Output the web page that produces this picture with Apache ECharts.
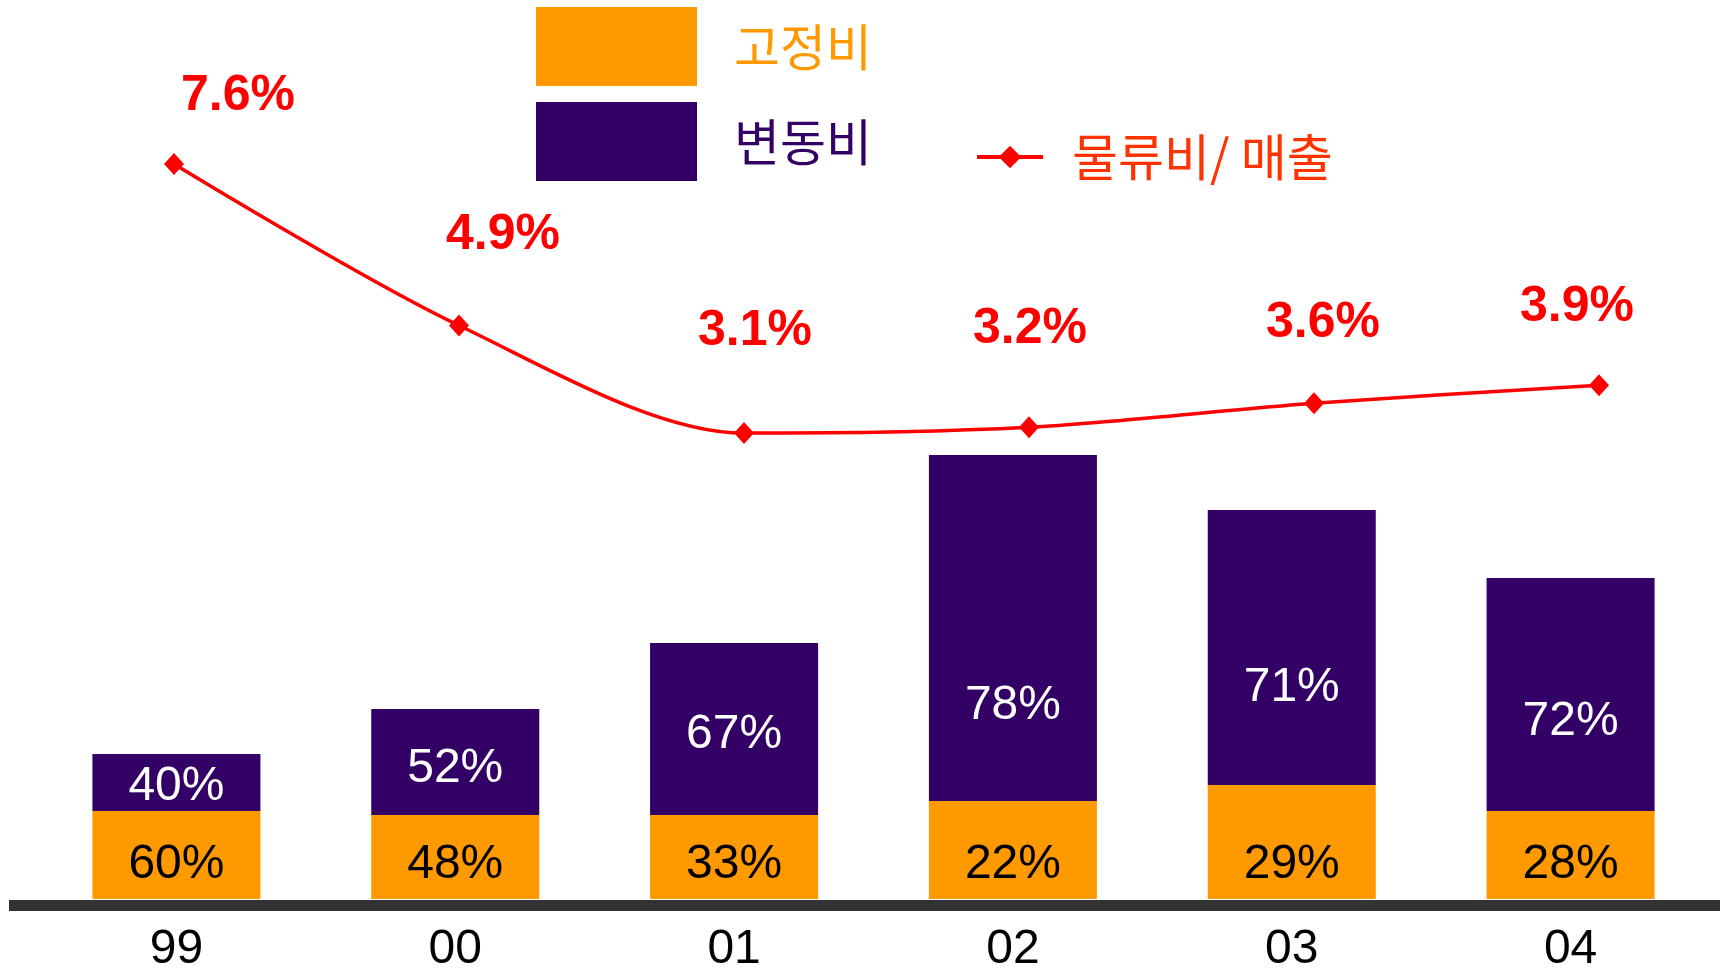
<!DOCTYPE html>
<html>
<head>
<meta charset="utf-8">
<script src="https://cdn.jsdelivr.net/npm/echarts@6/dist/echarts.min.js"></script>
<style>
html,body{margin:0;padding:0;background:#fff;}
#chart{width:1726px;height:969px;}
</style>
</head>
<body>
<div id="chart"></div>
<script>
// ---- data ----
const categories = ['99', '00', '01', '02', '03', '04'];
const fixedCost = [88, 84, 84, 98, 114, 88];          // 고정비 (relative amount, bar segment)
const variableCost = [57, 106, 172, 346, 275, 233];   // 변동비 (relative amount, bar segment)
const fixedPct = [60, 48, 33, 22, 29, 28];            // 고정비 share labels (%)
const variablePct = [40, 52, 67, 78, 71, 72];         // 변동비 share labels (%)
const costToSales = [7.6, 4.9, 3.1, 3.2, 3.6, 3.9];   // 물류비/ 매출 (%)

// ---- layout helpers (not data) ----
const lineLabelOffsets = [[64, -68], [44, -90], [11, -102], [1, -98], [9, -80], [-22, -78]];
const varLabelDy = [4, 7, 6, 78, 40, 27];

const NUM_FONT = '"Liberation Sans", Arial, sans-serif';
const KR_FONT = '"Noto Sans CJK KR", "Noto Sans", sans-serif';

const chart = echarts.init(document.getElementById('chart'), null, {renderer: 'canvas'});
chart.setOption({
  backgroundColor: '#ffffff',
  animation: false,
  grid: [
    {left: 37, right: 16, bottom: 70, height: 500, outerBoundsMode: 'none', containLabel: false},
    {left: 9, right: 6, bottom: 63.5, height: 10, outerBoundsMode: 'none', containLabel: false},
    {left: 174, right: 127, top: 20.5, bottom: 350.5, outerBoundsMode: 'none', containLabel: false}
  ],
  legend: [
    {
      data: [
        {name: '고정비', textStyle: {color: '#FF9900'}},
        {name: '변동비', textStyle: {color: '#330066'}}
      ],
      orient: 'vertical', left: 536, top: 7, padding: 0,
      icon: 'rect', itemWidth: 161, itemHeight: 79, itemGap: 16,
      textStyle: {fontFamily: KR_FONT, fontSize: 50, padding: [0, 0, 0, 32]}
    },
    {
      data: [{name: '물류비/ 매출', textStyle: {color: '#FF3300'}}],
      left: 975, top: 132, padding: 0,
      itemWidth: 66, itemHeight: 28,
      lineStyle: {width: 4},
      textStyle: {fontFamily: KR_FONT, fontSize: 50, padding: [0, 0, 0, 24]}
    }
  ],
  xAxis: [
    {
      gridIndex: 0, type: 'category', data: categories,
      axisLine: {show: false}, axisTick: {show: false},
      axisLabel: {color: '#000', fontFamily: NUM_FONT, fontSize: 48, margin: 27}
    },
    {
      gridIndex: 1, type: 'category', data: categories,
      axisLine: {show: true, lineStyle: {color: '#333333', width: 11, cap: 'butt'}},
      axisTick: {show: false}, axisLabel: {show: false}
    },
    {
      gridIndex: 2, type: 'category', data: categories, boundaryGap: false,
      show: false
    }
  ],
  yAxis: [
    {gridIndex: 0, type: 'value', min: 0, max: 500, show: false},
    {gridIndex: 1, type: 'value', show: false},
    {gridIndex: 2, type: 'value', min: 0, max: 10, show: false}
  ],
  series: [
    {
      name: '고정비', type: 'bar', stack: 'cost', xAxisIndex: 0, yAxisIndex: 0,
      barWidth: 168,
      itemStyle: {color: '#FF9900'},
      data: fixedCost,
      label: {
        show: true, position: 'insideBottom', distance: 10,
        color: '#000', fontFamily: NUM_FONT, fontSize: 48,
        textBorderWidth: 0,
        formatter: p => fixedPct[p.dataIndex] + '%'
      }
    },
    {
      name: '변동비', type: 'bar', stack: 'cost', xAxisIndex: 0, yAxisIndex: 0,
      barWidth: 168,
      itemStyle: {color: '#330066'},
      data: variableCost.map((v, i) => ({
        value: v,
        label: {offset: [0, varLabelDy[i]]}
      })),
      label: {
        show: true, position: 'inside',
        color: '#fff', fontFamily: NUM_FONT, fontSize: 48,
        textBorderWidth: 0,
        formatter: p => variablePct[p.dataIndex] + '%'
      }
    },
    {
      name: '물류비/ 매출', type: 'line', xAxisIndex: 2, yAxisIndex: 2,
      smooth: 0.3,
      symbol: 'diamond', symbolSize: [20, 22],
      lineStyle: {color: '#FF0000', width: 3.5},
      itemStyle: {color: '#FF0000'},
      data: costToSales.map((v, i) => ({
        value: v,
        label: {offset: lineLabelOffsets[i]}
      })),
      label: {
        show: true, position: 'inside',
        color: '#FF0000', fontFamily: NUM_FONT, fontSize: 50, fontWeight: 'bold',
        textBorderWidth: 0,
        formatter: p => costToSales[p.dataIndex].toFixed(1) + '%'
      }
    }
  ]
});
</script>
</body>
</html>
